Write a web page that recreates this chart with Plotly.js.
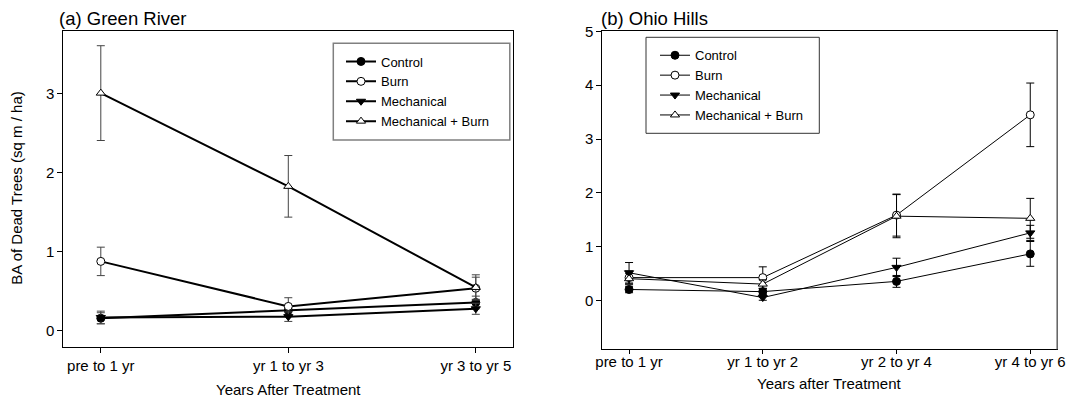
<!DOCTYPE html>
<html><head><meta charset="utf-8">
<script src="https://cdn.plot.ly/plotly-3.0.1.min.js"></script>
<style>html,body{margin:0;padding:0;background:#fff;} #chart{width:1069px;height:402px;}</style>
</head><body><div id="chart"></div>
<script>
// ---- Data: (a) Green River ----
const grCategories = ["pre to 1 yr", "yr 1 to yr 3", "yr 3 to yr 5"];
const grControl = [0.16, 0.26, 0.36];
const grControlErr = [0.07, 0.05, 0.08];
const grBurn = [0.88, 0.31, 0.54];
const grBurnErr = [0.18, 0.11, 0.14];
const grMech = [0.17, 0.18, 0.28];
const grMechErr = [0.08, 0.06, 0.07];
const grMechBurn = [3.01, 1.83, 0.55];
const grMechBurnErr = [0.60, 0.39, 0.16];

// ---- Data: (b) Ohio Hills ----
const ohCategories = ["pre to 1 yr", "yr 1 to yr 2", "yr 2 to yr 4", "yr 4 to yr 6"];
const ohControl = [0.21, 0.17, 0.36, 0.87];
const ohControlErr = [0.06, 0.05, 0.11, 0.23];
const ohBurn = [0.43, 0.43, 1.59, 3.45];
const ohBurnErr = [0.12, 0.20, 0.39, 0.59];
const ohMech = [0.52, 0.06, 0.62, 1.26];
const ohMechErr = [0.19, 0.05, 0.17, 0.14];
const ohMechBurn = [0.41, 0.31, 1.57, 1.53];
const ohMechBurnErr = [0.10, 0.08, 0.40, 0.37];

const seriesNames = ["Control", "Burn", "Mechanical", "Mechanical + Burn"];
const grYTicks = [0, 1, 2, 3];
const ohYTicks = [0, 1, 2, 3, 4, 5];

const FONT = "Liberation Sans, Arial, Helvetica, sans-serif";
const markerStyles = [
  {symbol: "circle", color: "#000", line: {color: "#000", width: 1}},
  {symbol: "circle", color: "#fff", line: {color: "#000", width: 1}},
  {symbol: "triangle-down", color: "#000", line: {color: "#000", width: 1}},
  {symbol: "triangle-up", color: "#fff", line: {color: "#000", width: 1}}
];

function mk(cats, ys, errs, idx, xa, ya, legendId, lw, errColor) {
  return {
    type: "scatter", mode: "lines+markers",
    x: cats, y: ys, xaxis: xa, yaxis: ya,
    name: seriesNames[idx], legend: legendId, legendrank: idx + 1,
    line: {color: "#000", width: lw},
    marker: Object.assign({size: 8}, markerStyles[idx]),
    error_y: {type: "data", array: errs, visible: true, color: errColor, thickness: 1, width: 4},
    hoverinfo: "x+y+name"
  };
}

const grSeries = [[grControl, grControlErr], [grBurn, grBurnErr], [grMech, grMechErr], [grMechBurn, grMechBurnErr]];
const ohSeries = [[ohControl, ohControlErr], [ohBurn, ohBurnErr], [ohMech, ohMechErr], [ohMechBurn, ohMechBurnErr]];

const traces = [];
grSeries.forEach((s, i) => traces.push(mk(grCategories, s[0], s[1], i, "x", "y", "legend", 2, "#444")));
ohSeries.forEach((s, i) => traces.push(mk(ohCategories, s[0], s[1], i, "x2", "y2", "legend2", 1, "#000")));

const W = 1069, H = 402;
const px = v => v / W, py = v => 1 - v / H;

const axisCommon = {
  showline: true, mirror: true, linecolor: "#000", linewidth: 1,
  ticks: "outside", ticklen: 5, tickcolor: "#000", tickwidth: 1,
  showgrid: false, zeroline: false, automargin: false,
  tickfont: {family: FONT, size: 15, color: "#000"}
};

const layout = {
  width: W, height: H,
  margin: {l: 0, r: 0, t: 0, b: 0},
  paper_bgcolor: "#fff", plot_bgcolor: "#fff",
  font: {family: FONT, size: 15, color: "#000"},
  showlegend: true,
  xaxis: Object.assign({}, axisCommon, {type: "category", domain: [px(63.3), px(513.3)], range: [-0.2, 2.2], anchor: "y"}),
  yaxis: Object.assign({}, axisCommon, {domain: [py(346.7), py(30.7)], range: [-0.2, 3.8], tickvals: grYTicks, anchor: "x"}),
  xaxis2: Object.assign({}, axisCommon, {type: "category", domain: [px(602.3), px(1057)], range: [-0.2, 3.2], anchor: "y2",
                                         ticklen: 4, ticklabelstandoff: -5}),
  yaxis2: Object.assign({}, axisCommon, {domain: [py(349.3), py(31.3)], range: [-0.9, 5], tickvals: ohYTicks, anchor: "x2"}),
  legend: {x: px(341), y: py(46.5), xanchor: "left", yanchor: "top", bgcolor: "rgba(0,0,0,0)", borderwidth: 0,
           font: {family: FONT, size: 13, color: "#000"}, tracegroupgap: 0},
  legend2: {x: px(655), y: py(40.3), xanchor: "left", yanchor: "top", bgcolor: "rgba(0,0,0,0)", borderwidth: 0,
           font: {family: FONT, size: 13, color: "#000"}, tracegroupgap: 0},
  shapes: [
    {type: "rect", xref: "paper", yref: "paper", x0: px(333.3), x1: px(509.8), y0: py(140), y1: py(43.3),
     line: {color: "#808080", width: 1.5}, fillcolor: "rgba(0,0,0,0)", layer: "above"},
    {type: "rect", xref: "paper", yref: "paper", x0: px(646), x1: px(819.3), y0: py(133.3), y1: py(37.3),
     line: {color: "#333", width: 1}, fillcolor: "rgba(0,0,0,0)", layer: "above"},
    {type: "line", xref: "x2 domain", yref: "y2 domain", x0: 1, x1: 1, y0: 0, y1: 1,
     line: {color: "#8a8a8a", width: 1.5}}
  ],
  annotations: [
    {text: "(a) Green River", xref: "paper", yref: "paper", x: px(57), y: py(19), xanchor: "left", yanchor: "middle",
     showarrow: false, font: {family: FONT, size: 18.5, color: "#000"}},
    {text: "(b) Ohio Hills", xref: "paper", yref: "paper", x: px(599), y: py(19), xanchor: "left", yanchor: "middle",
     showarrow: false, font: {family: FONT, size: 18.5, color: "#000"}},
    {text: "BA of Dead Trees (sq m / ha)", xref: "paper", yref: "paper", x: px(17), y: py(188.7), xanchor: "center", yanchor: "middle",
     textangle: -90, showarrow: false, font: {family: FONT, size: 15, color: "#000"}},
    {text: "Years After Treatment", xref: "paper", yref: "paper", x: px(288.3), y: py(389), xanchor: "center", yanchor: "middle",
     showarrow: false, font: {family: FONT, size: 15, color: "#000"}},
    {text: "Years after Treatment", xref: "paper", yref: "paper", x: px(829.6), y: py(383), xanchor: "center", yanchor: "middle",
     showarrow: false, font: {family: FONT, size: 15, color: "#000"}}
  ]
};

Plotly.newPlot("chart", traces, layout, {displayModeBar: false, staticPlot: true});
</script>
</body></html>
